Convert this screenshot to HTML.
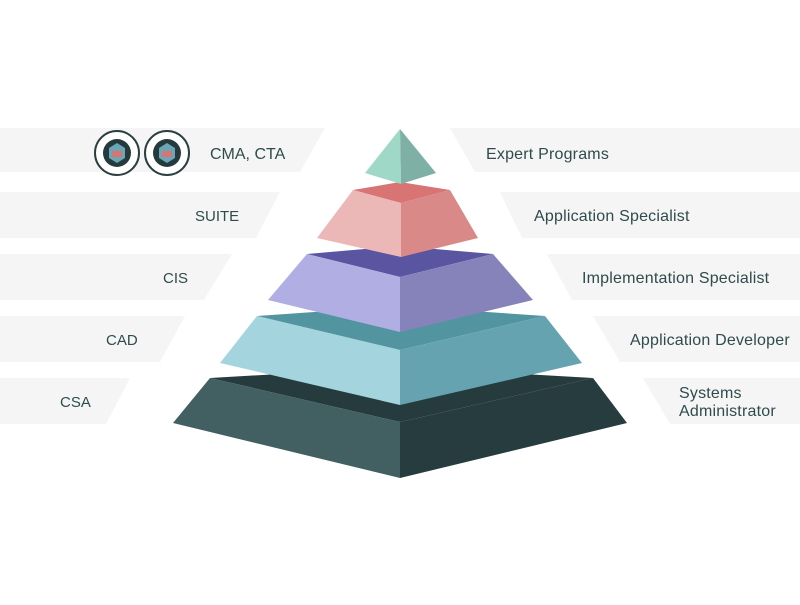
<!DOCTYPE html>
<html><head><style>
body{margin:0;background:#fff;width:800px;height:600px;overflow:hidden}
svg text{font-family:"Liberation Sans",sans-serif;fill:#2f4b4b}
</style></head><body>
<svg width="800" height="600" viewBox="0 0 800 600">
<g fill="#f5f5f5">
<polygon points="0,128 325,128 300,172 0,172"/>
<polygon points="0,192 280,192 256,238 0,238"/>
<polygon points="0,254 232,254 204,300 0,300"/>
<polygon points="0,316 185,316 160,362 0,362"/>
<polygon points="0,378 130,378 106,424 0,424"/>
<polygon points="450,128 800,128 800,172 475,172"/>
<polygon points="500,192 800,192 800,238 522,238"/>
<polygon points="547,254 800,254 800,300 572,300"/>
<polygon points="593,316 800,316 800,362 620,362"/>
<polygon points="643,378 800,378 800,424 670,424"/>
</g>
<polygon points="210,378 400,367 593,378 400,422" fill="#253b3d"/>
<polygon points="210,378 400,422 400,478 173,423" fill="#425f61"/>
<polygon points="400,422 593,378 627,423 400,478" fill="#263c3e"/>
<polygon points="257,316 400,306 545,316 400,350" fill="#5295a0"/>
<polygon points="257,316 400,350 400,405 220,363" fill="#a4d4de"/>
<polygon points="400,350 545,316 582,363 400,405" fill="#66a3b0"/>
<polygon points="307,254 400,246 493,254 400,277" fill="#5a55a0"/>
<polygon points="307,254 400,277 400,332 268,300" fill="#b0aee2"/>
<polygon points="400,277 493,254 533,300 400,332" fill="#8683ba"/>
<polygon points="353,190 400,182 450,190 401,203" fill="#d87474"/>
<polygon points="353,190 401,203 401,257 317,238" fill="#ebb7b7"/>
<polygon points="401,203 450,190 478,238 401,257" fill="#d98a88"/>
<polygon points="400,129 365,173 401,184" fill="#9fd8c6"/>
<polygon points="400,129 401,184 436,173" fill="#7fb0a5"/>
<g>
<circle cx="117" cy="153" r="22" fill="#fff" stroke="#2b3f40" stroke-width="2"/>
<circle cx="117" cy="153" r="14" fill="#243a3c"/>
<polygon points="117,143 125,148 125,158 117,163 109,158 109,148" fill="#6aa6b5"/>
<rect x="112" y="151" width="10" height="6" fill="#d87474"/>
<circle cx="167" cy="153" r="22" fill="#fff" stroke="#2b3f40" stroke-width="2"/>
<circle cx="167" cy="153" r="14" fill="#243a3c"/>
<polygon points="167,143 175,148 175,158 167,163 159,158 159,148" fill="#6aa6b5"/>
<rect x="162" y="151" width="10" height="6" fill="#d87474"/>
</g>
<g font-size="15">
<text x="210" y="159" font-size="16">CMA, CTA</text>
<text x="195" y="221">SUITE</text>
<text x="163" y="283">CIS</text>
<text x="106" y="345">CAD</text>
<text x="60" y="407">CSA</text>
</g>
<g font-size="16" letter-spacing="0.2">
<text x="486" y="159">Expert Programs</text>
<text x="534" y="221">Application Specialist</text>
<text x="582" y="283">Implementation Specialist</text>
<text x="630" y="345">Application Developer</text>
<text x="679" y="398">Systems</text>
<text x="679" y="416">Administrator</text>
</g>
</svg>
</body></html>
